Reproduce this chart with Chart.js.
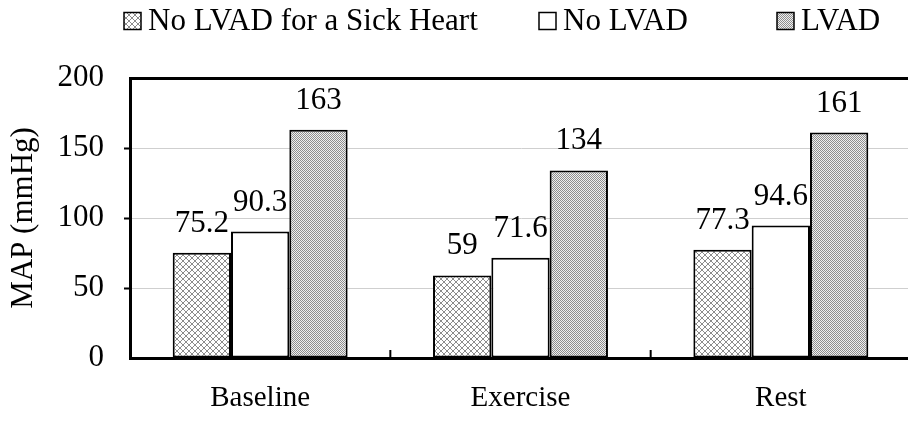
<!DOCTYPE html>
<html>
<head>
<meta charset="utf-8">
<script src="https://cdn.jsdelivr.net/npm/chart.js@4/dist/chart.umd.min.js"></script>
<style>
  html, body { margin: 0; padding: 0; background: #fff; overflow: hidden; }
  #wrap { width: 912px; height: 426px; }
  canvas { display: block; }
</style>
</head>
<body>
<div id="wrap"><canvas id="c" width="912" height="426"></canvas></div>
<script>
// Mean arterial pressure by condition and support
const categories = ['Baseline', 'Exercise', 'Rest'];
const sickNoLvad = [75.2, 59, 77.3];
const noLvad = [90.3, 71.6, 94.6];
const lvad = [163, 134, 161];
const seriesNames = ['No LVAD for a Sick Heart', 'No LVAD', 'LVAD'];
const yTickValues = [0, 50, 100, 150, 200];

const FONT = "'Liberation Serif', 'Times New Roman', serif";

// Fill patterns for the bars
function makePattern(size, painter) {
  const t = document.createElement('canvas');
  t.width = size; t.height = size;
  const g = t.getContext('2d');
  g.fillStyle = '#ffffff';
  g.fillRect(0, 0, size, size);
  painter(g);
  return document.getElementById('c').getContext('2d').createPattern(t, 'repeat');
}
const crossHatch = makePattern(6, g => {
  g.fillStyle = '#8c8c8c';
  for (let i = 0; i < 6; i++) {
    g.fillRect(i, i, 1, 1);
    g.fillRect(5 - i, i, 1, 1);
  }
});
const fineChecker = makePattern(2, g => {
  g.fillStyle = '#efefef';
  g.fillRect(0, 0, 2, 2);
  g.fillStyle = '#8e8e8e';
  g.fillRect(0, 0, 1, 1);
  g.fillRect(1, 1, 1, 1);
});
const fills = [crossHatch, '#ffffff', fineChecker];

// Values printed above each bar
const valueLabels = {
  id: 'valueLabels',
  afterDatasetsDraw(chart) {
    const ctx = chart.ctx;
    ctx.save();
    ctx.font = '31px ' + FONT;
    ctx.fillStyle = '#000';
    ctx.textAlign = 'center';
    ctx.textBaseline = 'alphabetic';
    chart.data.datasets.forEach((ds, di) => {
      chart.getDatasetMeta(di).data.forEach((bar, i) => {
        ctx.fillText(String(ds.data[i]), bar.x, bar.y - 21);
      });
    });
    ctx.restore();
  }
};

// Short inward ticks between categories on the x axis
const categoryTicks = {
  id: 'categoryTicks',
  afterDraw(chart) {
    const xs = chart.scales.x;
    const ctx = chart.ctx;
    const bottom = chart.chartArea.bottom;
    ctx.save();
    ctx.strokeStyle = '#000';
    ctx.lineWidth = 2;
    for (let i = 0; i < categories.length - 1; i++) {
      const x = (xs.getPixelForValue(i) + xs.getPixelForValue(i + 1)) / 2;
      ctx.beginPath();
      ctx.moveTo(x, bottom);
      ctx.lineTo(x, bottom - 8);
      ctx.stroke();
    }
    ctx.restore();
  }
};

// Legend row along the top
const legendBoxX = [124, 539, 777];
const topLegend = {
  id: 'topLegend',
  afterDraw(chart) {
    const ctx = chart.ctx;
    ctx.save();
    ctx.font = '31px ' + FONT;
    ctx.textBaseline = 'middle';
    ctx.textAlign = 'left';
    const y = 21, box = 17, gap = 7;
    chart.data.datasets.forEach((ds, k) => {
      const x = legendBoxX[k];
      ctx.fillStyle = ds.backgroundColor;
      ctx.fillRect(x, y - box / 2, box, box);
      ctx.strokeStyle = '#000';
      ctx.lineWidth = 1.5;
      ctx.strokeRect(x, y - box / 2, box, box);
      ctx.fillStyle = '#000';
      ctx.fillText(ds.label, x + box + gap, y + 1);
    });
    ctx.restore();
  }
};

new Chart(document.getElementById('c'), {
  type: 'bar',
  data: {
    labels: categories,
    datasets: [sickNoLvad, noLvad, lvad].map((vals, k) => ({
      label: seriesNames[k],
      data: vals,
      backgroundColor: fills[k],
      borderColor: '#000',
      borderWidth: 2,
      borderSkipped: false,
      barPercentage: 1.0,
      categoryPercentage: 0.672
    }))
  },
  plugins: [valueLabels, categoryTicks, topLegend],
  options: {
    responsive: false,
    animation: false,
    devicePixelRatio: 1,
    layout: { padding: { top: 78, right: 1, left: 0, bottom: 0 } },
    plugins: {
      legend: { display: false },
      tooltip: { enabled: false }
    },
    scales: {
      x: {
        grid: { display: false },
        border: { display: true, color: '#000', width: 3 },
        ticks: {
          color: '#000',
          font: { family: FONT, size: 29 },
          padding: 15,
          maxRotation: 0
        },
        afterFit(scale) { scale.height = 68; }
      },
      y: {
        min: 0,
        max: 200,
        afterBuildTicks(scale) {
          scale.ticks = yTickValues.map(v => ({ value: v }));
        },
        grid: {
          color: c => (c.tick && c.tick.value === 200) ? '#000' : '#cfcfcf',
          lineWidth: c => (c.tick && c.tick.value === 200) ? 3 : 1,
          drawTicks: true,
          tickLength: 6,
          tickWidth: 2,
          tickColor: c => (c.tick && (c.tick.value === 0 || c.tick.value === 200)) ? 'rgba(0,0,0,0)' : '#000'
        },
        border: { display: true, color: '#000', width: 3 },
        ticks: {
          color: '#000',
          font: { family: FONT, size: 31 },
          padding: 20
        },
        title: {
          display: true,
          text: 'MAP (mmHg)',
          color: '#000',
          font: { family: FONT, size: 31 },
          padding: { top: 5, bottom: 0 }
        },
        afterFit(scale) { scale.width = 130; }
      }
    }
  }
});
</script>
</body>
</html>
